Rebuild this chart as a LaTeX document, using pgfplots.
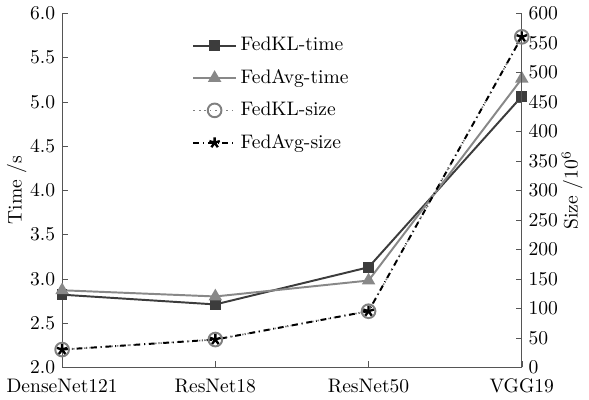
\documentclass[border=0pt]{standalone}
\usepackage{pgfplots}
\pgfplotsset{compat=1.18}
\definecolor{kltime}{HTML}{3C3C3C}
\definecolor{avgtime}{HTML}{888888}
\definecolor{axgray}{HTML}{555555}
\begin{document}
\begin{tikzpicture}
\pgfplotsset{
  every axis/.append style={
    scale only axis, width=235pt, height=181pt,
    xmin=0, xmax=3,
    tick style={axgray, major tick length=3pt},
    axis line style={axgray},
    tick label style={font=\normalsize},
    label style={font=\normalsize},
    /pgf/number format/assume math mode=true,
  },
}
\begin{axis}[
  axis x line*=bottom, axis y line*=left,
  ymin=2, ymax=6, ytick={2,2.5,...,6},
  yticklabel style={/pgf/number format/.cd, fixed, fixed zerofill, precision=1},
  xtick={0,1,2,3},
  xticklabels={DenseNet121,ResNet18,ResNet50,VGG19},
  xticklabel style={yshift=-2.5pt},
  tick align=inside,
  ylabel={Time /s},
  ylabel style={yshift=-5pt},
]
\addplot[kltime, line width=1pt, mark=square*, mark size=2.2pt] coordinates {(0,2.82) (1,2.71) (2,3.13) (3,5.06)};
\addplot[avgtime, line width=1pt, mark=triangle*, mark size=3pt] coordinates {(0,2.87) (1,2.80) (2,2.98) (3,5.26)};
\end{axis}
\begin{axis}[
  axis y line*=right, axis x line=none,
  ymin=0, ymax=600, ytick={0,50,...,600},
  tick align=inside,
  ylabel={Size /$10^6$},
  ylabel style={yshift=5pt},
  legend style={draw=none, fill=none, at={(rel axis cs:0.27,0.955)}, anchor=north west, font=\normalsize, row sep=4pt},
  legend cell align=left,
  legend image code/.code={\draw[mark repeat=2,mark phase=2,#1] plot coordinates {(0cm,0cm)(0.38cm,0cm)(0.76cm,0cm)};},
]
\addlegendimage{kltime, line width=1pt, mark=square*, mark size=2.2pt}
\addlegendentry{FedKL-time}
\addlegendimage{avgtime, line width=1pt, mark=triangle*, mark size=3pt}
\addlegendentry{FedAvg-time}
\addplot[gray, dotted, line width=0.8pt, mark=o, mark size=3.5pt, mark options={solid, line width=1pt, gray}] coordinates {(0,30) (1,47) (2,95) (3,560)};
\addlegendentry{FedKL-size}
\addplot[black, dash dot, line width=1pt, mark=star, mark size=2.8pt, mark options={solid, line width=1.2pt}] coordinates {(0,30) (1,47) (2,95) (3,560)};
\addlegendentry{FedAvg-size}
\end{axis}
\end{tikzpicture}
\end{document}
